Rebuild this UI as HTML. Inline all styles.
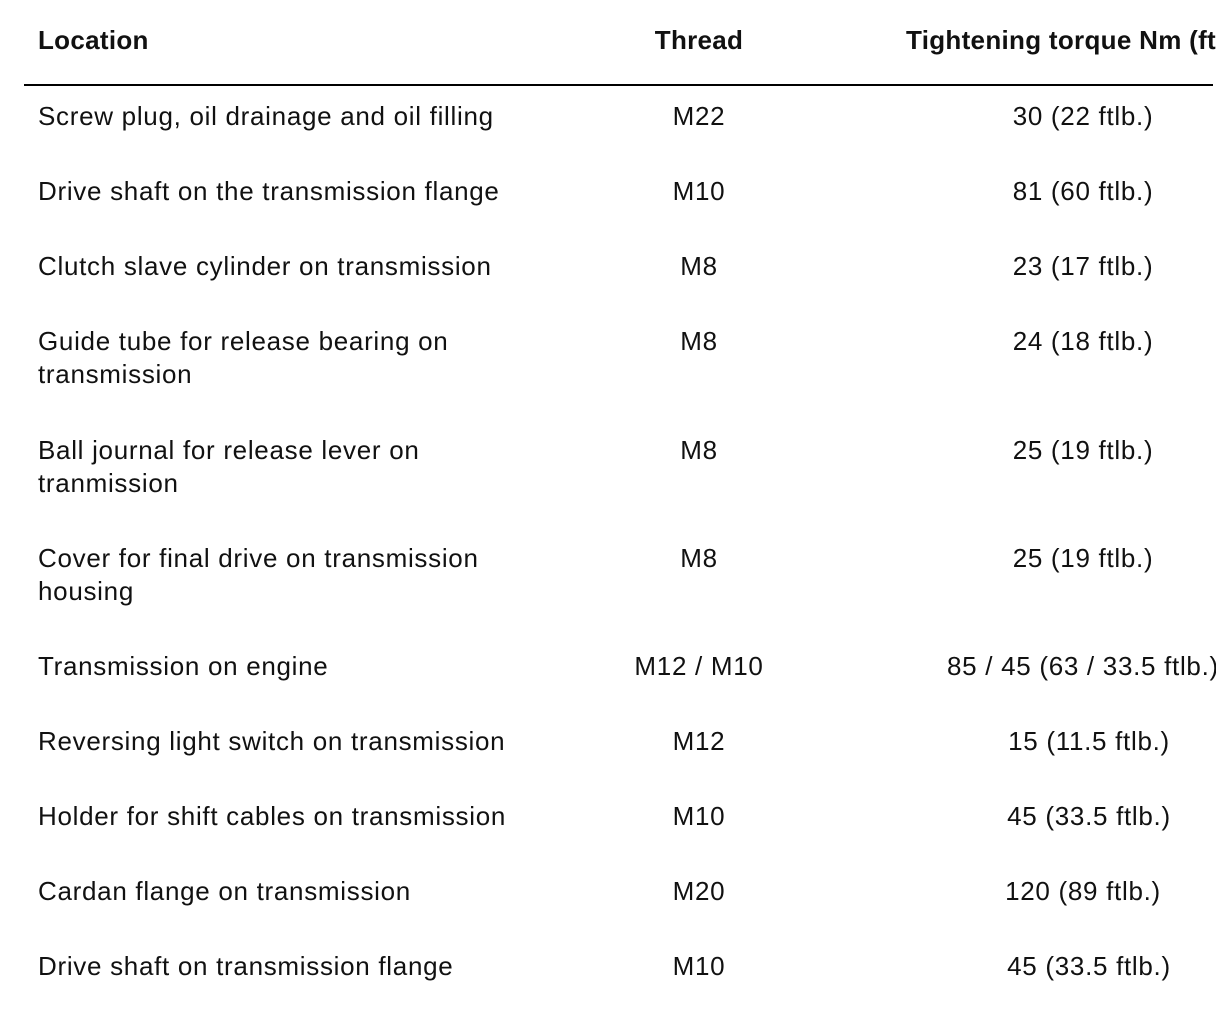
<!DOCTYPE html>
<html><head><meta charset="utf-8"><style>
html,body{margin:0;padding:0;background:#fff;width:1216px;height:1028px;overflow:hidden;position:relative}
body{font-family:"Liberation Sans",Arial,sans-serif;font-size:26px;color:#111;}
.t{position:absolute;line-height:33px;white-space:nowrap;letter-spacing:0.7px}
.c{transform:translateX(-50%);text-align:center}
.h{font-weight:bold;letter-spacing:0.3px}
.line{position:absolute;left:24px;top:84px;width:1189px;height:2px;background:#000}
</style></head><body>
<div class="t h" style="left:38px;top:24px">Location</div>
<div class="t h c" style="left:699px;top:24px">Thread</div>
<div class="t h" style="left:906px;top:24px">Tightening torque Nm (ftlb.)</div>
<div class="line"></div>

<div class="t" style="left:38px;top:100px">Screw plug, oil drainage and oil filling</div>
<div class="t c" style="left:699px;top:100px">M22</div>
<div class="t c" style="left:1083px;top:100px">30 (22 ftlb.)</div>

<div class="t" style="left:38px;top:175px">Drive shaft on the transmission flange</div>
<div class="t c" style="left:699px;top:175px">M10</div>
<div class="t c" style="left:1083px;top:175px">81 (60 ftlb.)</div>

<div class="t" style="left:38px;top:250px">Clutch slave cylinder on transmission</div>
<div class="t c" style="left:699px;top:250px">M8</div>
<div class="t c" style="left:1083px;top:250px">23 (17 ftlb.)</div>

<div class="t" style="left:38px;top:325px">Guide tube for release bearing on<br>transmission</div>
<div class="t c" style="left:699px;top:325px">M8</div>
<div class="t c" style="left:1083px;top:325px">24 (18 ftlb.)</div>

<div class="t" style="left:38px;top:434px">Ball journal for release lever on<br>tranmission</div>
<div class="t c" style="left:699px;top:434px">M8</div>
<div class="t c" style="left:1083px;top:434px">25 (19 ftlb.)</div>

<div class="t" style="left:38px;top:542px">Cover for final drive on transmission<br>housing</div>
<div class="t c" style="left:699px;top:542px">M8</div>
<div class="t c" style="left:1083px;top:542px">25 (19 ftlb.)</div>

<div class="t" style="left:38px;top:650px">Transmission on engine</div>
<div class="t c" style="left:699px;top:650px">M12 / M10</div>
<div class="t" style="left:947px;top:650px">85 / 45 (63 / 33.5 ftlb.)</div>

<div class="t" style="left:38px;top:725px">Reversing light switch on transmission</div>
<div class="t c" style="left:699px;top:725px">M12</div>
<div class="t c" style="left:1089px;top:725px">15 (11.5 ftlb.)</div>

<div class="t" style="left:38px;top:800px">Holder for shift cables on transmission</div>
<div class="t c" style="left:699px;top:800px">M10</div>
<div class="t c" style="left:1089px;top:800px">45 (33.5 ftlb.)</div>

<div class="t" style="left:38px;top:875px">Cardan flange on transmission</div>
<div class="t c" style="left:699px;top:875px">M20</div>
<div class="t c" style="left:1083px;top:875px">120 (89 ftlb.)</div>

<div class="t" style="left:38px;top:950px">Drive shaft on transmission flange</div>
<div class="t c" style="left:699px;top:950px">M10</div>
<div class="t c" style="left:1089px;top:950px">45 (33.5 ftlb.)</div>
</body></html>
